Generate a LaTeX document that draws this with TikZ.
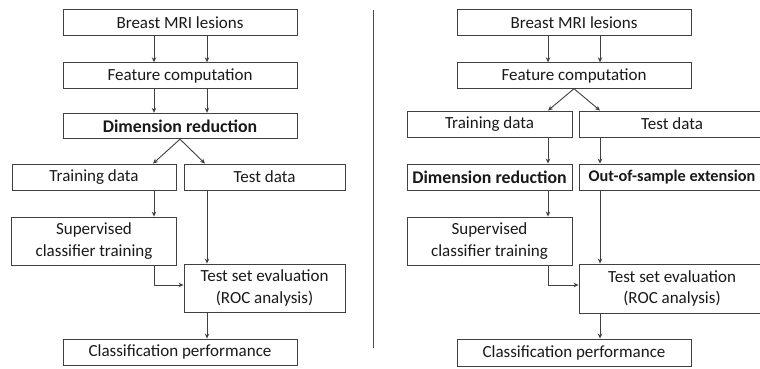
\documentclass[tikz,border=0pt]{standalone}
\usepackage{fontspec}
\setmainfont{Carlito}
\usetikzlibrary{arrows.meta,positioning}

\begin{document}
\begin{tikzpicture}[
  x=1pt, y=-1pt,
  every node/.style={rectangle, draw=black!75, line width=0.9pt, align=center, inner sep=0pt, font=\fontsize{17}{21.5}\selectfont, text=black!90},
  wide/.style={minimum width=234pt, minimum height=25.5pt},
  half/.style={minimum width=165pt, minimum height=26pt},
  tall/.style={minimum width=165pt, minimum height=48pt},
  strong/.style={font=\fontsize{17.8}{21.5}\selectfont\bfseries},
  link/.style={draw=black!75, line width=0.9pt, ->, >={Stealth[length=5pt,width=4.5pt]}}
]
\useasboundingbox (0,0) rectangle (760,369);
\clip (0,0) rectangle (760,369);

% Izquierda
\node[wide] (lbreast) at (180,22.5) {Breast MRI lesions};
\node[wide] (lfeat) at (180,75.5) {Feature computation};
\node[wide, strong] (ldim) at (180,126) {Dimension reduction};
\node[half, minimum width=164pt] (ltrain) at (94,177) {Training data};
\node[half, minimum width=161pt] (ltest) at (264.5,177) {Test data};
\node[tall] (lsup) at (94,241) {Supervised\\classifier training};
\node[tall, minimum width=161pt] (leval) at (264.5,288) {Test set evaluation\\(ROC analysis)};
\node[wide, minimum height=26pt] (lclass) at (180,352) {Classification performance};

% Derecha
\node[wide] (rbreast) at (574,22.5) {Breast MRI lesions};
\node[wide] (rfeat) at (574,75.5) {Feature computation};
\node[half] (rtrain) at (489.5,124) {Training data};
\node[half, minimum width=186pt] (rtest) at (672,124) {Test data};
\node[half, strong] (rdim) at (489.5,177) {Dimension reduction};
\node[half, minimum width=186pt, font=\fontsize{16.3}{21.5}\selectfont\bfseries] (roos) at (672,177) {Out-of-sample extension};
\node[tall] (rsup) at (489.5,241) {Supervised\\classifier training};
\node[tall, minimum width=186pt, minimum height=49pt] (reval) at (672,288.5) {Test set evaluation\\(ROC analysis)};
\node[wide, minimum height=27pt] (rclass) at (574,352.5) {Classification performance};

% Separador
\coordinate (top) at (373,10);
\coordinate (bottom) at (373,348);
\draw[draw=black!70, line width=0.9pt] (top) -- (bottom);

% Conexiones izquierda
\draw[link] ([xshift=-26pt]lbreast.south) -- ([xshift=-26pt]lfeat.north);
\draw[link] ([xshift=27pt]lbreast.south) -- ([xshift=27pt]lfeat.north);
\draw[link] ([xshift=-26pt]lfeat.south) -- ([xshift=-26pt]ldim.north);
\draw[link] ([xshift=27pt]lfeat.south) -- ([xshift=27pt]ldim.north);
\draw[link] (ldim.south) -- ([xshift=59pt]ltrain.north);
\draw[link] (ldim.south) -- ([xshift=-59.5pt]ltest.north);
\draw[link] ([xshift=60pt]ltrain.south) -- ([xshift=60pt]lsup.north);
\draw[link] ([xshift=-57.5pt]ltest.south) -- ([xshift=-57.5pt]leval.north);
\draw[link] ([xshift=60pt]lsup.south) |- ([yshift=3pt]leval.west);
\draw[link] ([xshift=-57.5pt]leval.south) -- ([xshift=27pt]lclass.north);

% Conexiones derecha
\draw[link] ([xshift=-26pt]rbreast.south) -- ([xshift=-26pt]rfeat.north);
\draw[link] ([xshift=26pt]rbreast.south) -- ([xshift=26pt]rfeat.north);
\draw[link] (rfeat.south) -- ([xshift=58.5pt]rtrain.north);
\draw[link] (rfeat.south) -- ([xshift=-72pt]rtest.north);
\draw[link] ([xshift=58.5pt]rtrain.south) -- ([xshift=58.5pt]rdim.north);
\draw[link] ([xshift=-72pt]rtest.south) -- ([xshift=-72pt]roos.north);
\draw[link] ([xshift=58.5pt]rdim.south) -- ([xshift=58.5pt]rsup.north);
\draw[link] ([xshift=-72pt]roos.south) -- ([xshift=-72pt]reval.north);
\draw[link] ([xshift=58.5pt]rsup.south) |- ([yshift=3.5pt]reval.west);
\draw[link] ([xshift=-72pt]reval.south) -- ([xshift=26pt]rclass.north);

\end{tikzpicture}
\end{document}
